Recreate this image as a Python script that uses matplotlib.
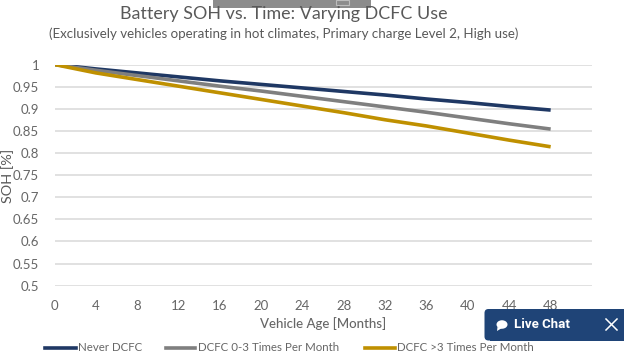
import matplotlib
matplotlib.use("Agg")
import matplotlib.pyplot as plt
from matplotlib.patches import FancyBboxPatch, Rectangle, Ellipse, Polygon
from matplotlib.lines import Line2D

months = [0, 4, 8, 12, 16, 20, 24, 28, 32, 36, 40, 44, 48]
never = [1.0, 0.99, 0.981, 0.972, 0.963, 0.955, 0.947, 0.939, 0.931, 0.922, 0.914, 0.905, 0.897]
low = [1.0, 0.987, 0.975, 0.963, 0.951, 0.94, 0.928, 0.916, 0.904, 0.892, 0.879, 0.866, 0.854]
high = [1.0, 0.981, 0.966, 0.951, 0.936, 0.921, 0.906, 0.891, 0.875, 0.861, 0.845, 0.829, 0.814]
names = ["Never DCFC", "DCFC 0-3 Times Per Month", "DCFC >3 Times Per Month"]
colors = ["#1F3864", "#7F7F7F", "#BF9000"]
yticks = [0.5, 0.55, 0.6, 0.65, 0.7, 0.75, 0.8, 0.85, 0.9, 0.95, 1]
ylabels = ["0.5", "0.55", "0.6", "0.65", "0.7", "0.75", "0.8", "0.85", "0.9", "0.95", "1"]

W, H = 624, 355
plt.rcParams["font.family"] = ["Lato", "DejaVu Sans"]
fig = plt.figure(figsize=(W / 100, H / 100), dpi=100)
ax = fig.add_axes([54.5 / W, 1 - 285.7 / H, (592 - 54.5) / W, (285.7 - 64.5) / H])
ax.set_xlim(0, 52)
ax.set_ylim(0.5, 1)
ax.set_yticks(yticks, ylabels)
ax.set_xticks(months)
ax.grid(axis="y", color="#DCDCDC", lw=1.2)
ax.set_axisbelow(True)
for s in ax.spines.values():
    s.set_visible(False)
ax.tick_params(length=0, labelsize=9.5, labelcolor="#666666", pad=11)
ax.tick_params(axis="x", pad=10)
for vals, name, c in zip((never, low, high), names, colors):
    ax.plot(months, vals, color=c, lw=2.6, label=name, solid_capstyle="butt")

T = fig.transFigure
def ft(x, y, s, **k):
    fig.text(x / W, 1 - y / H, s, va="center", **k)

ft(284, 14, "Battery SOH vs. Time: Varying DCFC Use", ha="center", fontsize=12.9, color="#595959")
ft(284, 34, "(Exclusively vehicles operating in hot climates, Primary charge Level 2, High use)",
   ha="center", fontsize=9.6, color="#595959")
ft(323, 324, "Vehicle Age [Months]", ha="center", fontsize=9.5, color="#666666", fontweight="medium")
ft(7.5, 176, "SOH [%]", ha="center", rotation=90, fontsize=10.4, color="#595959")

# legend, laid out as in the reference
for (x0, x1, tx), name, c in zip([(45, 76, 78), (166, 195, 198), (365, 395, 397)], names, colors):
    fig.add_artist(Line2D([x0 / W, x1 / W], [1 - 347.5 / H] * 2, transform=T, color=c, lw=2.6))
    ft(tx, 347.5, name, ha="left", fontsize=8.3, color="#666666")

# screenshot overlays
fig.add_artist(Rectangle((213 / W, 1 - 8 / H), 158 / W, 8 / H, transform=T, color="#8C8C8C", lw=0))
fig.add_artist(Rectangle((335.5 / W, 1 - 5 / H), 13 / W, 5 / H, transform=T, fill=False, ec="#BDBDBD", lw=0.8))

ov = fig.add_axes([0, 0, 1, 1], facecolor="none")
ov.set_xlim(0, W)
ov.set_ylim(H, 0)
ov.axis("off")
ov.add_patch(Rectangle((490, 309), 134, 31.5, fc="#1F4477", lw=0))
ov.add_patch(FancyBboxPatch((484.5, 309), 12, 31.5, boxstyle="round,pad=0,rounding_size=4",
                            fc="#1F4477", ec="#1F4477", lw=0))
ov.add_patch(Ellipse((502, 324.5), 11, 8.5, fc="white", lw=0))
ov.add_patch(Polygon([[497.5, 327], [497, 331], [502, 328]], fc="white", lw=0))
ov.text(514, 324.5, "Live Chat", color="white", fontsize=9.5, fontweight="bold", family="Roboto", va="center")
ov.plot([606, 617], [319, 330], color="white", lw=1.1)
ov.plot([606, 617], [330, 319], color="white", lw=1.1)

fig.savefig("out.png", dpi=100)
